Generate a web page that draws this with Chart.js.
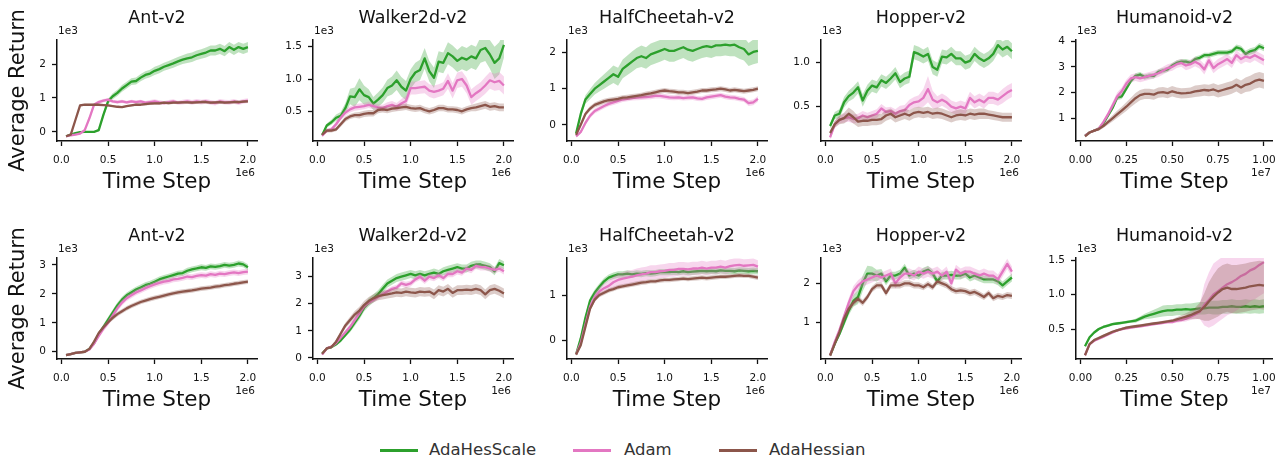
<!DOCTYPE html>
<html>
<head>
<meta charset="utf-8">
<script src="https://cdn.jsdelivr.net/npm/chart.js@4"></script>
<style>
  body { margin: 0; background: #fff; }
  #page { position: relative; width: 1280px; height: 459px; overflow: hidden; font-family: "DejaVu Sans", sans-serif; }
  #page canvas { position: absolute; }
  .sw { position: absolute; height: 3px; width: 38px; top: 448.5px; }
  .lt { position: absolute; top: 440px; font-size: 16.5px; line-height: 20px; color: #333; white-space: nowrap; }
</style>
</head>
<body>
<div id="page">
  <div class="sw" style="left:380px;background:#2ca02c"></div><div class="lt" style="left:429px">AdaHesScale</div>
  <div class="sw" style="left:573px;background:#e377c2"></div><div class="lt" style="left:624px">Adam</div>
  <div class="sw" style="left:719px;background:#8c564b"></div><div class="lt" style="left:769px">AdaHessian</div>
</div>
<script>
// time steps (x1e6 for mujoco 2M runs, x1e7 for humanoid)
const steps2M = [0.05,0.1,0.15,0.2,0.25,0.3,0.35,0.4,0.45,0.5,0.55,0.6,0.65,0.7,0.75,0.8,0.85,0.9,0.95,1.0,
                 1.05,1.1,1.15,1.2,1.25,1.3,1.35,1.4,1.45,1.5,1.55,1.6,1.65,1.7,1.75,1.8,1.85,1.9,1.95,2.0];
const steps10M = [0.025,0.05,0.075,0.1,0.125,0.15,0.175,0.2,0.225,0.25,0.275,0.3,0.325,0.35,0.375,0.4,0.425,0.45,0.475,0.5,
                  0.525,0.55,0.575,0.6,0.625,0.65,0.675,0.7,0.725,0.75,0.775,0.8,0.825,0.85,0.875,0.9,0.925,0.95,0.975,1.0];
const xTicks2M = [0, 0.5, 1.0, 1.5, 2.0];
const xTicks10M = [0, 0.25, 0.5, 0.75, 1.0];

// ---- row 1 (returns x1e3) ----
const ant1Scale = [-0.13,-0.08,-0.04,-0.01,0,0,0,0.05,0.5,0.9,1.05,1.15,1.28,1.38,1.48,1.5,1.6,1.68,1.72,1.8,1.85,1.92,1.97,2.02,2.08,2.13,2.17,2.2,2.26,2.3,2.34,2.4,2.4,2.45,2.38,2.5,2.42,2.5,2.45,2.5];
const ant1ScaleSd = [0.02,0.02,0.02,0.02,0.02,0.02,0.02,0.04,0.08,0.08,0.09,0.09,0.1,0.1,0.1,0.1,0.11,0.11,0.11,0.12,0.12,0.12,0.12,0.13,0.13,0.13,0.14,0.14,0.14,0.14,0.15,0.15,0.15,0.15,0.15,0.15,0.15,0.15,0.15,0.15];
const ant1Adam = [-0.13,-0.1,-0.08,-0.05,0.05,0.4,0.8,0.88,0.92,0.95,0.9,0.88,0.9,0.87,0.9,0.88,0.9,0.86,0.88,0.9,0.87,0.85,0.88,0.9,0.86,0.88,0.9,0.87,0.9,0.88,0.9,0.87,0.85,0.9,0.88,0.87,0.9,0.86,0.9,0.92];
const ant1AdamSd = [0.02,0.02,0.03,0.03,0.05,0.06,0.05,0.05,0.05,0.05,0.05,0.05,0.05,0.05,0.05,0.05,0.05,0.05,0.06,0.06,0.06,0.06,0.06,0.06,0.06,0.07,0.07,0.07,0.07,0.07,0.07,0.07,0.07,0.07,0.07,0.07,0.07,0.07,0.07,0.07];
const ant1AdaHess = [-0.13,-0.08,0.35,0.78,0.8,0.8,0.8,0.8,0.79,0.78,0.76,0.74,0.73,0.76,0.78,0.8,0.8,0.82,0.83,0.84,0.84,0.86,0.85,0.86,0.86,0.87,0.87,0.86,0.87,0.88,0.88,0.86,0.87,0.88,0.86,0.87,0.88,0.88,0.89,0.9];
const ant1AdaHessSd = [0.02,0.03,0.05,0.04,0.03,0.03,0.03,0.03,0.03,0.03,0.03,0.03,0.03,0.03,0.03,0.04,0.04,0.04,0.04,0.04,0.04,0.04,0.04,0.04,0.04,0.04,0.04,0.04,0.04,0.04,0.04,0.04,0.04,0.04,0.04,0.04,0.04,0.04,0.04,0.04];

const walker1Scale = [0.13,0.28,0.33,0.4,0.43,0.55,0.73,0.72,0.84,0.75,0.72,0.62,0.68,0.75,0.86,0.9,0.98,0.88,0.82,1.0,1.1,1.14,1.32,1.12,1.02,1.27,1.25,1.4,1.35,1.28,1.33,1.3,1.35,1.32,1.45,1.48,1.38,1.25,1.32,1.53];
const walker1ScaleSd = [0.02,0.03,0.04,0.05,0.06,0.08,0.12,0.15,0.17,0.15,0.12,0.1,0.11,0.12,0.13,0.14,0.15,0.15,0.15,0.15,0.15,0.16,0.16,0.16,0.16,0.16,0.16,0.17,0.17,0.17,0.18,0.18,0.18,0.18,0.2,0.2,0.22,0.25,0.25,0.2];
const walker1Adam = [0.12,0.2,0.22,0.3,0.4,0.48,0.53,0.56,0.57,0.58,0.6,0.58,0.56,0.55,0.58,0.6,0.57,0.62,0.66,0.86,0.86,0.87,0.88,0.82,0.8,0.82,0.85,0.97,0.82,0.98,1.0,0.9,0.72,0.78,0.83,0.9,0.98,0.95,0.97,0.9];
const walker1AdamSd = [0.02,0.03,0.03,0.04,0.04,0.05,0.05,0.05,0.05,0.05,0.05,0.05,0.05,0.05,0.06,0.06,0.06,0.07,0.08,0.1,0.1,0.1,0.1,0.1,0.1,0.1,0.1,0.12,0.12,0.12,0.12,0.12,0.12,0.12,0.12,0.13,0.13,0.13,0.14,0.14];
const walker1AdaHess = [0.14,0.2,0.2,0.22,0.3,0.38,0.42,0.44,0.44,0.46,0.47,0.47,0.52,0.53,0.52,0.54,0.55,0.56,0.57,0.55,0.54,0.55,0.52,0.5,0.52,0.55,0.55,0.53,0.53,0.52,0.5,0.53,0.55,0.56,0.58,0.6,0.57,0.58,0.56,0.56];
const walker1AdaHessSd = [0.02,0.03,0.03,0.03,0.04,0.04,0.04,0.04,0.05,0.05,0.05,0.05,0.05,0.05,0.05,0.05,0.05,0.05,0.05,0.05,0.05,0.05,0.05,0.05,0.05,0.05,0.05,0.05,0.05,0.05,0.05,0.05,0.05,0.06,0.06,0.06,0.06,0.06,0.06,0.06];

const cheetah1Scale = [-0.24,0.3,0.7,0.85,1.0,1.1,1.2,1.3,1.4,1.33,1.55,1.65,1.75,1.85,1.9,1.85,1.95,2.0,2.05,2.1,2.05,2.05,2.1,2.15,2.08,2.05,2.1,2.15,2.18,2.15,2.2,2.2,2.22,2.2,2.22,2.15,2.1,1.95,2.02,2.05];
const cheetah1ScaleSd = [0.05,0.1,0.12,0.14,0.16,0.18,0.2,0.22,0.24,0.25,0.26,0.27,0.28,0.28,0.3,0.3,0.3,0.3,0.3,0.3,0.3,0.3,0.3,0.3,0.3,0.3,0.3,0.3,0.3,0.3,0.3,0.3,0.3,0.3,0.32,0.32,0.32,0.32,0.34,0.34];
const cheetah1Adam = [-0.32,-0.2,0.05,0.25,0.38,0.45,0.52,0.58,0.62,0.66,0.7,0.72,0.74,0.75,0.76,0.77,0.78,0.8,0.8,0.78,0.76,0.75,0.76,0.74,0.75,0.76,0.73,0.72,0.76,0.78,0.8,0.82,0.78,0.76,0.75,0.72,0.7,0.6,0.62,0.72];
const cheetah1AdamSd = [0.03,0.05,0.06,0.07,0.07,0.07,0.07,0.07,0.07,0.07,0.07,0.07,0.07,0.07,0.07,0.07,0.07,0.07,0.07,0.07,0.07,0.07,0.07,0.07,0.07,0.07,0.07,0.07,0.07,0.07,0.07,0.07,0.07,0.07,0.07,0.07,0.07,0.08,0.08,0.08];
const cheetah1AdaHess = [-0.28,0.0,0.3,0.45,0.55,0.6,0.65,0.68,0.7,0.72,0.75,0.76,0.78,0.8,0.82,0.85,0.87,0.9,0.93,0.95,0.93,0.92,0.9,0.9,0.88,0.9,0.92,0.95,0.95,0.97,0.98,1.0,0.98,0.95,0.97,0.95,0.93,0.95,0.97,1.0];
const cheetah1AdaHessSd = [0.03,0.05,0.06,0.07,0.07,0.07,0.07,0.07,0.07,0.07,0.07,0.07,0.07,0.07,0.07,0.07,0.07,0.07,0.07,0.07,0.07,0.07,0.07,0.07,0.07,0.07,0.07,0.07,0.07,0.07,0.07,0.07,0.07,0.07,0.07,0.07,0.07,0.07,0.07,0.07];

const hopper1Scale = [0.28,0.4,0.42,0.55,0.62,0.66,0.72,0.57,0.68,0.74,0.72,0.8,0.77,0.82,0.88,0.78,0.82,0.84,1.12,1.1,1.07,1.1,0.95,0.92,1.07,1.06,1.1,1.05,1.05,1.0,1.02,1.1,1.05,1.02,1.05,1.1,1.2,1.15,1.18,1.13];
const hopper1ScaleSd = [0.03,0.04,0.05,0.06,0.06,0.07,0.07,0.07,0.07,0.07,0.07,0.07,0.07,0.07,0.07,0.07,0.07,0.07,0.08,0.08,0.08,0.08,0.08,0.08,0.08,0.08,0.08,0.08,0.08,0.08,0.08,0.08,0.08,0.08,0.08,0.08,0.09,0.09,0.09,0.09];
const hopper1Adam = [0.15,0.3,0.35,0.37,0.38,0.36,0.37,0.4,0.38,0.4,0.42,0.48,0.44,0.45,0.42,0.45,0.46,0.52,0.55,0.56,0.6,0.7,0.58,0.55,0.58,0.55,0.5,0.48,0.5,0.48,0.6,0.55,0.58,0.55,0.6,0.6,0.58,0.62,0.66,0.69];
const hopper1AdamSd = [0.03,0.04,0.04,0.05,0.05,0.05,0.05,0.05,0.05,0.05,0.05,0.05,0.05,0.05,0.05,0.06,0.06,0.06,0.06,0.07,0.1,0.15,0.1,0.07,0.07,0.07,0.07,0.07,0.07,0.07,0.07,0.07,0.07,0.07,0.07,0.07,0.07,0.08,0.08,0.08];
const hopper1AdaHess = [0.2,0.3,0.35,0.37,0.42,0.38,0.33,0.34,0.34,0.35,0.35,0.36,0.4,0.42,0.38,0.4,0.42,0.4,0.43,0.44,0.43,0.44,0.42,0.43,0.42,0.4,0.38,0.4,0.41,0.4,0.42,0.41,0.42,0.42,0.41,0.4,0.39,0.38,0.38,0.38];
const hopper1AdaHessSd = [0.03,0.04,0.05,0.06,0.07,0.07,0.06,0.06,0.06,0.06,0.06,0.06,0.06,0.06,0.06,0.06,0.06,0.06,0.06,0.06,0.06,0.06,0.06,0.06,0.06,0.06,0.06,0.06,0.06,0.06,0.06,0.06,0.06,0.06,0.05,0.05,0.05,0.05,0.05,0.05];

const humanoid1Scale = [0.33,0.45,0.52,0.6,0.8,1.1,1.4,1.8,1.85,2.15,2.45,2.65,2.7,2.6,2.65,2.65,2.8,2.85,2.9,3.05,3.15,3.2,3.2,3.15,3.3,3.35,3.45,3.45,3.5,3.55,3.55,3.55,3.6,3.75,3.7,3.5,3.6,3.65,3.8,3.72];
const humanoid1ScaleSd = [0.03,0.03,0.04,0.05,0.06,0.08,0.1,0.1,0.1,0.1,0.1,0.1,0.1,0.1,0.1,0.1,0.1,0.1,0.1,0.1,0.1,0.1,0.1,0.1,0.1,0.1,0.1,0.1,0.1,0.1,0.1,0.1,0.1,0.12,0.12,0.12,0.12,0.12,0.12,0.12];
const humanoid1Adam = [0.33,0.45,0.52,0.6,0.85,1.15,1.5,1.85,2.05,2.35,2.55,2.6,2.55,2.6,2.65,2.7,2.75,2.85,2.95,3.0,3.1,3.15,3.05,3.1,3.2,3.1,2.9,3.25,2.95,3.1,3.2,3.3,3.15,3.45,3.3,3.4,3.35,3.45,3.35,3.25];
const humanoid1AdamSd = [0.03,0.03,0.04,0.06,0.08,0.1,0.12,0.15,0.15,0.15,0.15,0.15,0.15,0.15,0.15,0.15,0.15,0.15,0.15,0.15,0.15,0.15,0.18,0.18,0.18,0.18,0.2,0.2,0.2,0.2,0.2,0.2,0.2,0.2,0.2,0.2,0.2,0.2,0.2,0.2];
const humanoid1AdaHess = [0.3,0.45,0.52,0.58,0.7,0.85,1.0,1.15,1.3,1.45,1.62,1.78,1.9,1.95,1.95,1.92,2.0,2.02,1.98,2.05,2.0,1.97,1.98,2.0,2.05,2.07,2.1,2.08,2.12,2.05,2.1,2.15,2.2,2.3,2.2,2.3,2.35,2.45,2.5,2.45];
const humanoid1AdaHessSd = [0.03,0.03,0.04,0.06,0.08,0.1,0.12,0.14,0.15,0.17,0.18,0.2,0.2,0.2,0.2,0.2,0.2,0.2,0.2,0.2,0.2,0.2,0.2,0.2,0.22,0.22,0.22,0.22,0.24,0.24,0.24,0.25,0.25,0.26,0.27,0.28,0.3,0.3,0.3,0.3];

// ---- row 2 ----
const ant2Scale = [-0.12,-0.08,-0.04,-0.02,0.0,0.1,0.3,0.6,0.85,1.1,1.35,1.6,1.8,1.95,2.05,2.15,2.22,2.3,2.35,2.42,2.5,2.55,2.6,2.65,2.7,2.72,2.8,2.85,2.88,2.92,2.9,2.95,2.93,2.96,3.0,2.98,3.0,3.05,3.02,2.92];
const ant2ScaleSd = [0.02,0.02,0.02,0.02,0.03,0.04,0.06,0.08,0.1,0.1,0.1,0.1,0.1,0.1,0.1,0.1,0.1,0.1,0.1,0.1,0.1,0.1,0.1,0.1,0.1,0.1,0.1,0.1,0.1,0.1,0.1,0.1,0.1,0.1,0.1,0.1,0.1,0.1,0.1,0.1];
const ant2Adam = [-0.12,-0.08,-0.04,-0.02,0.0,0.08,0.28,0.55,0.8,1.0,1.25,1.5,1.7,1.85,1.95,2.05,2.12,2.2,2.27,2.33,2.38,2.42,2.45,2.5,2.52,2.55,2.6,2.58,2.62,2.65,2.63,2.68,2.66,2.7,2.68,2.72,2.74,2.72,2.75,2.77];
const ant2AdamSd = [0.02,0.02,0.02,0.02,0.03,0.04,0.06,0.08,0.1,0.1,0.1,0.1,0.1,0.1,0.1,0.1,0.1,0.1,0.1,0.1,0.1,0.1,0.1,0.1,0.1,0.1,0.1,0.1,0.1,0.1,0.1,0.1,0.1,0.1,0.1,0.1,0.1,0.1,0.1,0.1];
const ant2AdaHess = [-0.12,-0.08,-0.04,-0.02,0.0,0.1,0.35,0.65,0.85,1.02,1.17,1.3,1.4,1.5,1.58,1.65,1.72,1.77,1.82,1.86,1.9,1.94,1.98,2.02,2.05,2.08,2.1,2.12,2.15,2.18,2.2,2.22,2.25,2.27,2.3,2.32,2.35,2.37,2.4,2.42];
const ant2AdaHessSd = [0.02,0.02,0.02,0.02,0.03,0.04,0.05,0.06,0.07,0.07,0.08,0.08,0.08,0.08,0.08,0.08,0.08,0.08,0.08,0.08,0.08,0.08,0.08,0.08,0.08,0.08,0.08,0.08,0.08,0.08,0.08,0.08,0.08,0.08,0.08,0.08,0.08,0.08,0.08,0.08];

const walker2Scale = [0.15,0.35,0.4,0.5,0.65,0.85,1.05,1.3,1.55,1.85,2.05,2.2,2.35,2.55,2.75,2.85,2.95,3.0,3.05,3.1,3.05,3.1,3.05,3.1,3.15,3.1,3.2,3.25,3.3,3.35,3.3,3.3,3.4,3.45,3.45,3.4,3.35,3.2,3.5,3.42];
const walker2ScaleSd = [0.03,0.04,0.05,0.06,0.07,0.08,0.1,0.12,0.13,0.14,0.15,0.15,0.15,0.15,0.15,0.15,0.15,0.15,0.15,0.15,0.15,0.15,0.15,0.15,0.15,0.15,0.15,0.15,0.15,0.15,0.15,0.15,0.15,0.15,0.15,0.15,0.15,0.15,0.15,0.15];
const walker2Adam = [0.12,0.35,0.42,0.55,0.75,0.95,1.15,1.4,1.65,1.9,2.05,2.15,2.25,2.35,2.45,2.55,2.6,2.75,2.7,2.75,2.9,3.0,2.85,3.0,2.95,3.05,2.95,3.1,3.1,3.2,3.15,3.3,3.25,3.4,3.35,3.35,3.3,3.25,3.3,3.2];
const walker2AdamSd = [0.03,0.04,0.05,0.06,0.07,0.08,0.09,0.1,0.1,0.1,0.1,0.1,0.1,0.1,0.1,0.1,0.1,0.11,0.11,0.11,0.11,0.12,0.12,0.12,0.12,0.12,0.12,0.12,0.12,0.12,0.12,0.12,0.12,0.12,0.12,0.12,0.12,0.12,0.12,0.12];
const walker2AdaHess = [0.15,0.35,0.4,0.6,0.9,1.2,1.4,1.6,1.75,1.95,2.1,2.2,2.28,2.32,2.35,2.38,2.42,2.4,2.45,2.42,2.4,2.45,2.43,2.45,2.35,2.5,2.45,2.55,2.4,2.5,2.5,2.52,2.5,2.55,2.5,2.35,2.5,2.55,2.48,2.38];
const walker2AdaHessSd = [0.03,0.04,0.05,0.07,0.09,0.1,0.12,0.13,0.14,0.15,0.15,0.15,0.15,0.16,0.16,0.16,0.16,0.16,0.17,0.17,0.17,0.17,0.17,0.17,0.18,0.18,0.18,0.18,0.18,0.18,0.18,0.18,0.18,0.18,0.18,0.18,0.18,0.18,0.18,0.18];

const cheetah2Scale = [-0.3,0.05,0.5,0.88,1.05,1.18,1.3,1.38,1.42,1.45,1.45,1.47,1.45,1.47,1.46,1.48,1.47,1.48,1.5,1.5,1.5,1.51,1.5,1.52,1.5,1.51,1.52,1.53,1.52,1.53,1.52,1.54,1.53,1.53,1.52,1.54,1.53,1.52,1.53,1.52];
const cheetah2ScaleSd = [0.03,0.05,0.06,0.07,0.07,0.07,0.07,0.07,0.07,0.07,0.07,0.07,0.07,0.07,0.07,0.07,0.07,0.07,0.07,0.07,0.07,0.07,0.07,0.07,0.07,0.07,0.07,0.07,0.07,0.07,0.07,0.07,0.07,0.07,0.07,0.07,0.07,0.07,0.07,0.07];
const cheetah2Adam = [-0.3,-0.05,0.35,0.75,0.95,1.08,1.15,1.2,1.28,1.33,1.36,1.38,1.4,1.43,1.45,1.47,1.5,1.5,1.52,1.53,1.55,1.55,1.57,1.57,1.56,1.58,1.58,1.6,1.58,1.6,1.6,1.62,1.6,1.63,1.65,1.66,1.64,1.65,1.66,1.62];
const cheetah2AdamSd = [0.03,0.05,0.07,0.08,0.1,0.1,0.11,0.12,0.13,0.14,0.14,0.15,0.15,0.15,0.15,0.15,0.15,0.15,0.15,0.15,0.15,0.15,0.15,0.15,0.15,0.15,0.15,0.15,0.15,0.15,0.15,0.15,0.15,0.15,0.15,0.14,0.14,0.14,0.14,0.14];
const cheetah2AdaHess = [-0.3,-0.1,0.3,0.7,0.9,1.0,1.05,1.1,1.13,1.17,1.19,1.21,1.23,1.25,1.27,1.28,1.3,1.3,1.32,1.33,1.33,1.34,1.35,1.36,1.35,1.36,1.37,1.38,1.37,1.38,1.39,1.4,1.4,1.41,1.42,1.43,1.42,1.42,1.4,1.38];
const cheetah2AdaHessSd = [0.03,0.04,0.05,0.05,0.05,0.05,0.05,0.05,0.05,0.05,0.05,0.05,0.05,0.05,0.05,0.05,0.05,0.05,0.05,0.05,0.05,0.05,0.05,0.05,0.05,0.05,0.05,0.05,0.05,0.05,0.05,0.05,0.05,0.05,0.05,0.05,0.05,0.05,0.05,0.05];

const hopper2Scale = [0.15,0.45,0.7,1.0,1.3,1.55,1.65,2.0,2.25,2.25,2.2,2.25,2.05,2.2,2.2,2.25,2.4,2.2,2.25,2.2,2.3,2.35,2.25,2.05,2.2,2.2,2.22,2.2,2.2,2.25,2.15,2.2,2.15,2.1,2.1,2.1,2.05,1.95,2.05,2.15];
const hopper2ScaleSd = [0.03,0.05,0.07,0.1,0.12,0.15,0.18,0.2,0.2,0.18,0.15,0.12,0.1,0.1,0.1,0.1,0.1,0.1,0.1,0.1,0.1,0.1,0.1,0.1,0.1,0.1,0.1,0.1,0.1,0.1,0.1,0.1,0.1,0.1,0.1,0.1,0.1,0.1,0.1,0.1];
const hopper2Adam = [0.15,0.5,0.8,1.15,1.5,1.8,1.95,2.05,2.1,2.15,2.2,2.15,2.2,2.25,2.0,2.15,2.25,2.25,2.2,2.3,2.25,2.3,2.25,2.3,2.2,2.3,2.0,2.35,2.25,2.3,2.3,2.25,2.2,2.25,2.2,2.2,2.1,2.3,2.5,2.3];
const hopper2AdamSd = [0.03,0.06,0.08,0.1,0.12,0.13,0.13,0.13,0.13,0.13,0.13,0.13,0.13,0.13,0.13,0.13,0.13,0.13,0.13,0.13,0.13,0.13,0.13,0.13,0.13,0.13,0.13,0.13,0.13,0.13,0.13,0.13,0.13,0.13,0.13,0.13,0.13,0.13,0.13,0.13];
const hopper2AdaHess = [0.15,0.45,0.75,1.1,1.35,1.5,1.6,1.5,1.65,1.85,1.95,1.95,1.75,1.95,1.95,1.95,2.0,2.0,1.95,1.95,1.9,1.98,1.9,2.05,2.0,1.95,1.85,1.8,1.82,1.8,1.75,1.78,1.72,1.65,1.75,1.62,1.68,1.65,1.7,1.68];
const hopper2AdaHessSd = [0.03,0.05,0.06,0.07,0.08,0.08,0.08,0.08,0.08,0.08,0.08,0.08,0.08,0.08,0.08,0.08,0.08,0.08,0.08,0.08,0.08,0.08,0.08,0.08,0.08,0.08,0.08,0.08,0.08,0.08,0.08,0.08,0.08,0.08,0.08,0.08,0.08,0.08,0.08,0.08];

const humanoid2Scale = [0.25,0.38,0.45,0.5,0.53,0.55,0.57,0.58,0.59,0.6,0.61,0.62,0.65,0.68,0.7,0.72,0.74,0.76,0.77,0.77,0.78,0.78,0.79,0.78,0.79,0.8,0.8,0.81,0.81,0.81,0.82,0.82,0.83,0.82,0.82,0.83,0.82,0.83,0.82,0.83];
const humanoid2ScaleSd = [0.02,0.02,0.02,0.02,0.02,0.02,0.02,0.02,0.02,0.02,0.02,0.03,0.03,0.04,0.05,0.06,0.07,0.08,0.08,0.08,0.08,0.08,0.08,0.09,0.09,0.09,0.09,0.09,0.1,0.1,0.1,0.1,0.1,0.1,0.1,0.1,0.1,0.1,0.1,0.1];
const humanoid2Adam = [0.12,0.28,0.33,0.36,0.39,0.42,0.45,0.48,0.5,0.51,0.52,0.53,0.54,0.55,0.56,0.57,0.58,0.59,0.6,0.6,0.62,0.63,0.65,0.68,0.71,0.75,0.85,0.92,1.0,1.05,1.1,1.15,1.18,1.22,1.27,1.3,1.35,1.38,1.43,1.47];
const humanoid2AdamSd = [0.02,0.02,0.02,0.02,0.02,0.02,0.02,0.02,0.02,0.02,0.02,0.02,0.02,0.02,0.02,0.02,0.02,0.02,0.02,0.02,0.03,0.03,0.04,0.05,0.07,0.1,0.3,0.4,0.45,0.45,0.45,0.45,0.45,0.45,0.45,0.45,0.45,0.45,0.45,0.45];
const humanoid2AdaHess = [0.12,0.28,0.34,0.37,0.4,0.43,0.46,0.48,0.5,0.52,0.53,0.54,0.55,0.56,0.57,0.58,0.59,0.6,0.61,0.62,0.64,0.66,0.68,0.7,0.73,0.76,0.82,0.9,0.97,1.03,1.08,1.1,1.08,1.08,1.09,1.1,1.12,1.13,1.14,1.13];
const humanoid2AdaHessSd = [0.02,0.02,0.02,0.02,0.02,0.02,0.02,0.02,0.02,0.02,0.02,0.02,0.02,0.02,0.02,0.02,0.02,0.02,0.02,0.02,0.03,0.04,0.05,0.06,0.08,0.12,0.2,0.28,0.32,0.35,0.35,0.35,0.35,0.35,0.35,0.35,0.35,0.35,0.35,0.35];

// algorithm names and colours
const algoNames = ['AdaHesScale', 'Adam', 'AdaHessian'];
const algoColors = ['#2ca02c', '#e377c2', '#8c564b'];
const algoBands = ['rgba(44,160,44,0.3)', 'rgba(227,119,194,0.3)', 'rgba(140,86,75,0.3)'];

// panel configs built from the arrays above
const panels = [
  {title: 'Ant-v2', steps: steps2M, xTicks: xTicks2M, xDec: 1, xExp: '1e6', xMin: -0.0475, xMax: 2.0975,
   yTicks: [0, 1, 2], yDec: 0, yMin: -0.27, yMax: 2.71,
   series: [[ant1Scale, ant1ScaleSd], [ant1Adam, ant1AdamSd], [ant1AdaHess, ant1AdaHessSd]]},
  {title: 'Walker2d-v2', steps: steps2M, xTicks: xTicks2M, xDec: 1, xExp: '1e6', xMin: -0.0475, xMax: 2.0975,
   yTicks: [0.5, 1.0, 1.5], yDec: 1, yMin: 0.04, yMax: 1.604,
   series: [[walker1Scale, walker1ScaleSd], [walker1Adam, walker1AdamSd], [walker1AdaHess, walker1AdaHessSd]]},
  {title: 'HalfCheetah-v2', steps: steps2M, xTicks: xTicks2M, xDec: 1, xExp: '1e6', xMin: -0.0475, xMax: 2.0975,
   yTicks: [0, 1, 2], yDec: 0, yMin: -0.45, yMax: 2.35,
   series: [[cheetah1Scale, cheetah1ScaleSd], [cheetah1Adam, cheetah1AdamSd], [cheetah1AdaHess, cheetah1AdaHessSd]]},
  {title: 'Hopper-v2', steps: steps2M, xTicks: xTicks2M, xDec: 1, xExp: '1e6', xMin: -0.0475, xMax: 2.0975,
   yTicks: [0.5, 1.0], yDec: 1, yMin: 0.11, yMax: 1.258,
   series: [[hopper1Scale, hopper1ScaleSd], [hopper1Adam, hopper1AdamSd], [hopper1AdaHess, hopper1AdaHessSd]]},
  {title: 'Humanoid-v2', steps: steps10M, xTicks: xTicks10M, xDec: 2, xExp: '1e7', xMin: -0.024, xMax: 1.049,
   yTicks: [1, 2, 3, 4], yDec: 0, yMin: 0.12, yMax: 4.04,
   series: [[humanoid1Scale, humanoid1ScaleSd], [humanoid1Adam, humanoid1AdamSd], [humanoid1AdaHess, humanoid1AdaHessSd]]},
  {title: 'Ant-v2', steps: steps2M, xTicks: xTicks2M, xDec: 1, xExp: '1e6', xMin: -0.0475, xMax: 2.0975,
   yTicks: [0, 1, 2, 3], yDec: 0, yMin: -0.25, yMax: 3.24,
   series: [[ant2Scale, ant2ScaleSd], [ant2Adam, ant2AdamSd], [ant2AdaHess, ant2AdaHessSd]]},
  {title: 'Walker2d-v2', steps: steps2M, xTicks: xTicks2M, xDec: 1, xExp: '1e6', xMin: -0.0475, xMax: 2.0975,
   yTicks: [0, 1, 2, 3], yDec: 0, yMin: -0.04, yMax: 3.69,
   series: [[walker2Scale, walker2ScaleSd], [walker2Adam, walker2AdamSd], [walker2AdaHess, walker2AdaHessSd]]},
  {title: 'HalfCheetah-v2', steps: steps2M, xTicks: xTicks2M, xDec: 1, xExp: '1e6', xMin: -0.0475, xMax: 2.0975,
   yTicks: [0, 1], yDec: 0, yMin: -0.40, yMax: 1.81,
   series: [[cheetah2Scale, cheetah2ScaleSd], [cheetah2Adam, cheetah2AdamSd], [cheetah2AdaHess, cheetah2AdaHessSd]]},
  {title: 'Hopper-v2', steps: steps2M, xTicks: xTicks2M, xDec: 1, xExp: '1e6', xMin: -0.0475, xMax: 2.0975,
   yTicks: [1, 2], yDec: 0, yMin: 0.06, yMax: 2.65,
   series: [[hopper2Scale, hopper2ScaleSd], [hopper2Adam, hopper2AdamSd], [hopper2AdaHess, hopper2AdaHessSd]]},
  {title: 'Humanoid-v2', steps: steps10M, xTicks: xTicks10M, xDec: 2, xExp: '1e7', xMin: -0.024, xMax: 1.049,
   yTicks: [0.5, 1.0, 1.5], yDec: 1, yMin: 0.065, yMax: 1.53,
   series: [[humanoid2Scale, humanoid2ScaleSd], [humanoid2Adam, humanoid2AdamSd], [humanoid2AdaHess, humanoid2AdaHessSd]]}
];

// layout of the grid (plot area edges, px)
const colLeft = [57, 313, 567, 821, 1076];
const rowTop = [40, 258];
const plotW = 200, plotH = 101;
const yAxisW = 57, padTop = 40, padRight = 8, canvasH = 200;

const FONT = '"DejaVu Sans", sans-serif';
const INK = '#111';

// titles, axis labels and offset texts (1e3 / 1e6)
const panelText = {
  id: 'panelText',
  afterDraw(chart, args, o) {
    const {ctx, chartArea: a} = chart;
    const cx = (a.left + a.right) / 2;
    ctx.save();
    ctx.fillStyle = INK;
    ctx.textAlign = 'center';
    ctx.textBaseline = 'middle';
    ctx.font = '17.5px ' + FONT;
    ctx.fillText(o.title, cx, a.top - 22);
    ctx.font = '21.5px ' + FONT;
    ctx.fillText('Time Step', cx, a.bottom + 41);
    ctx.font = '10.5px ' + FONT;
    ctx.textAlign = 'left';
    ctx.fillText('1e3', a.left + 1, a.top - 8.5);
    ctx.textAlign = 'right';
    ctx.fillText(o.xExp, a.right - 2, a.bottom + 32);
    if (o.yTitle) {
      ctx.font = '21px ' + FONT;
      ctx.translate(18.5, (a.top + a.bottom) / 2);
      ctx.rotate(-Math.PI / 2);
      ctx.textAlign = 'center';
      ctx.fillText('Average Return', 0, 0);
    }
    ctx.restore();
  }
};

function buildDatasets(p) {
  const ds = [];
  p.series.forEach(([mean, sd], s) => {
    const pts = (arr) => arr.map((v, i) => ({x: p.steps[i], y: v}));
    const base = (3 - s) * 3;
    ds.push({data: pts(mean.map((v, i) => v + sd[i])), borderWidth: 0, pointRadius: 0, fill: false, order: base + 1});
    ds.push({data: pts(mean.map((v, i) => v - sd[i])), borderWidth: 0, pointRadius: 0,
             fill: '-1', backgroundColor: algoBands[s], order: base + 1});
    ds.push({label: algoNames[s], data: pts(mean), borderColor: algoColors[s], borderWidth: 2.3,
             pointRadius: 0, tension: 0, fill: false, borderJoinStyle: 'round', order: base});
  });
  return ds;
}

const page = document.getElementById('page');
panels.forEach((p, k) => {
  const row = Math.floor(k / 5), col = k % 5;
  const L = colLeft[col] - yAxisW, T = rowTop[row] - padTop;
  const W = yAxisW + plotW + padRight;
  const c = document.createElement('canvas');
  c.width = W; c.height = canvasH;
  c.style.left = L + 'px'; c.style.top = T + 'px';
  c.style.width = W + 'px'; c.style.height = canvasH + 'px';
  page.appendChild(c);

  const tickFont = {family: FONT, size: 10.5};
  new Chart(c, {
    type: 'line',
    data: {datasets: buildDatasets(p)},
    options: {
      responsive: false,
      animation: false,
      layout: {padding: {top: padTop, right: padRight, left: 0, bottom: 0}},
      plugins: {
        legend: {display: false},
        tooltip: {enabled: false},
        panelText: {title: p.title, xExp: p.xExp, yTitle: col === 0}
      },
      scales: {
        x: {
          type: 'linear', min: p.xMin, max: p.xMax,
          afterBuildTicks: s => { s.ticks = p.xTicks.map(v => ({value: v})); },
          afterFit: s => { s.height = canvasH - padTop - plotH; },
          grid: {drawOnChartArea: false, drawTicks: true, tickLength: 5, tickWidth: 1.3, tickColor: INK},
          border: {display: true, color: INK, width: 1.5},
          ticks: {autoSkip: false, maxRotation: 0, padding: 8, color: INK, font: tickFont,
                  callback: v => Number(v).toFixed(p.xDec)}
        },
        y: {
          type: 'linear', min: p.yMin, max: p.yMax,
          afterBuildTicks: s => { s.ticks = p.yTicks.map(v => ({value: v})); },
          afterFit: s => { s.width = yAxisW; },
          grid: {drawOnChartArea: false, drawTicks: true, tickLength: 5, tickWidth: 1.3, tickColor: INK},
          border: {display: true, color: INK, width: 1.5},
          ticks: {autoSkip: false, padding: 6, color: INK, font: tickFont,
                  callback: v => Number(v).toFixed(p.yDec)}
        }
      }
    },
    plugins: [panelText]
  });
});
</script>
</body>
</html>
